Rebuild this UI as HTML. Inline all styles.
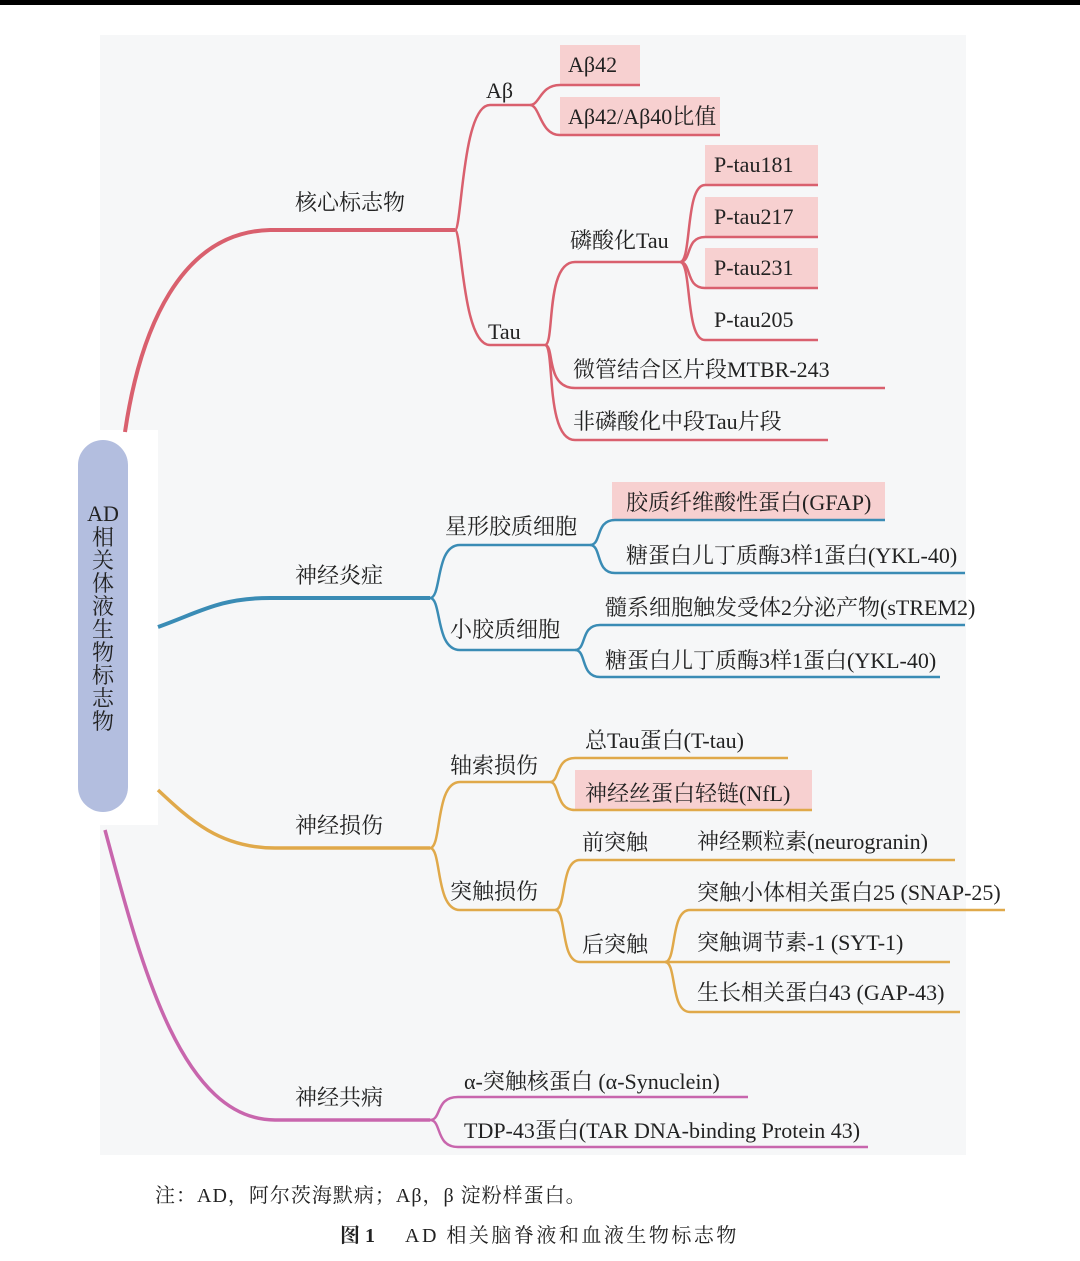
<!DOCTYPE html>
<html><head><meta charset="utf-8"><style>
html,body{margin:0;padding:0;background:#fff;width:1080px;height:1261px;overflow:hidden}
svg text{font-family:"Liberation Serif","Noto Serif CJK SC",serif;font-size:22px;fill:#222}
</style></head><body>
<svg width="1080" height="1261" viewBox="0 0 1080 1261" xmlns="http://www.w3.org/2000/svg">
<rect x="0" y="0" width="1080" height="5" fill="#000"/>
<rect x="100" y="35" width="866" height="1120" fill="#f6f7f8"/>
<rect x="70" y="430" width="88" height="395" fill="#fff"/>
<g fill="#f7d0d0">
<rect x="560" y="45" width="80" height="40"/>
<rect x="560" y="97" width="160" height="38"/>
<rect x="705" y="145" width="113" height="40"/>
<rect x="705" y="197" width="113" height="40"/>
<rect x="705" y="248" width="113" height="40"/>
<rect x="612" y="482" width="273" height="38"/>
<rect x="575" y="770" width="237" height="40"/>
</g>
<g fill="none" stroke="#d9606e" stroke-width="2.5">
<path d="M125,432 C140,330 180,232 270,230 L455,230" stroke-width="4"/>
<path d="M455,230 C462,230 462,105 490,105 L530,105"/>
<path d="M455,230 C462,230 462,345 490,345 L545,345"/>
<path d="M530,105 C540,105 540,85 560,85 L640,85"/>
<path d="M530,105 C540,105 540,135 560,135 L720,135"/>
<path d="M545,345 C555,345 545,262 575,262 L680,262"/>
<path d="M545,345 C555,345 545,388 575,388 L885,388"/>
<path d="M545,345 C555,345 545,440 575,440 L828,440"/>
<path d="M680,262 C692,262 685,185 705,185 L818,185"/>
<path d="M680,262 C692,262 685,237 705,237 L818,237"/>
<path d="M680,262 C692,262 685,288 705,288 L818,288"/>
<path d="M680,262 C692,262 685,340 705,340 L818,340"/>
</g>
<g fill="none" stroke="#3a8cb5" stroke-width="2.5">
<path d="M158,627 C200,612 220,598 270,598 L430,598" stroke-width="4"/>
<path d="M430,598 C442,598 435,545 460,545 L590,545"/>
<path d="M430,598 C442,598 435,650 460,650 L575,650"/>
<path d="M590,545 C602,545 595,520 615,520 L885,520"/>
<path d="M590,545 C602,545 595,573 615,573 L965,573"/>
<path d="M575,650 C587,650 580,625 600,625 L965,625"/>
<path d="M575,650 C587,650 580,677 600,677 L940,677"/>
</g>
<g fill="none" stroke="#e0a94a" stroke-width="2.5">
<path d="M158,790 C190,820 220,848 275,848 L430,848" stroke-width="3.5"/>
<path d="M430,848 C442,848 435,782 460,782 L550,782"/>
<path d="M430,848 C442,848 435,910 460,910 L555,910"/>
<path d="M550,782 C560,782 555,758 575,758 L788,758"/>
<path d="M550,782 C560,782 555,810 575,810 L812,810"/>
<path d="M555,910 C567,910 560,860 580,860 L955,860"/>
<path d="M555,910 C567,910 560,962 580,962 L665,962"/>
<path d="M665,962 C677,962 670,910 690,910 L1005,910"/>
<path d="M665,962 C677,962 670,962 690,962 L950,962"/>
<path d="M665,962 C677,962 670,1012 690,1012 L960,1012"/>
</g>
<g fill="none" stroke="#c866ad" stroke-width="2.5">
<path d="M105,830 C140,960 180,1120 275,1120 L430,1120" stroke-width="3.5"/>
<path d="M430,1120 C442,1120 435,1097 458,1097 L748,1097"/>
<path d="M430,1120 C442,1120 435,1147 458,1147 L868,1147"/>
</g>
<rect x="78" y="440" width="50" height="372" rx="25" fill="#b3bedf"/>
<text x="103" y="521" text-anchor="middle" font-size="20">AD</text>
<g text-anchor="middle" style="font-size:21px">
<text x="103" y="545">相</text><text x="103" y="568">关</text><text x="103" y="591">体</text><text x="103" y="614">液</text><text x="103" y="637">生</text><text x="103" y="660">物</text><text x="103" y="683">标</text><text x="103" y="706">志</text><text x="103" y="729">物</text>
</g>
<text x="295" y="210">核心标志物</text>
<text x="486" y="98">Aβ</text>
<text x="568" y="72">Aβ42</text>
<text x="568" y="124">Aβ42/Aβ40比值</text>
<text x="488" y="339">Tau</text>
<text x="570" y="248">磷酸化Tau</text>
<text x="714" y="172">P-tau181</text>
<text x="714" y="224">P-tau217</text>
<text x="714" y="275">P-tau231</text>
<text x="714" y="327">P-tau205</text>
<text x="573" y="377">微管结合区片段MTBR-243</text>
<text x="573" y="429">非磷酸化中段Tau片段</text>

<text x="295" y="583">神经炎症</text>
<text x="445" y="534">星形胶质细胞</text>
<text x="450" y="637">小胶质细胞</text>
<text x="626" y="510">胶质纤维酸性蛋白(GFAP)</text>
<text x="626" y="563">糖蛋白儿丁质酶3样1蛋白(YKL-40)</text>
<text x="605" y="615">髓系细胞触发受体2分泌产物(sTREM2)</text>
<text x="605" y="668">糖蛋白儿丁质酶3样1蛋白(YKL-40)</text>

<text x="295" y="833">神经损伤</text>
<text x="450" y="773">轴索损伤</text>
<text x="450" y="899">突触损伤</text>
<text x="585" y="748">总Tau蛋白(T-tau)</text>
<text x="585" y="801">神经丝蛋白轻链(NfL)</text>
<text x="582" y="850">前突触</text>
<text x="582" y="952">后突触</text>
<text x="697" y="849">神经颗粒素(neurogranin)</text>
<text x="697" y="900">突触小体相关蛋白25 (SNAP-25)</text>
<text x="697" y="950">突触调节素-1 (SYT-1)</text>
<text x="697" y="1000">生长相关蛋白43 (GAP-43)</text>

<text x="295" y="1105">神经共病</text>
<text x="464" y="1089">α-突触核蛋白 (α-Synuclein)</text>
<text x="464" y="1138">TDP-43蛋白(TAR DNA-binding Protein 43)</text>

<text x="155" y="1202" style="font-size:20px;letter-spacing:1px" fill="#333">注：AD，阿尔茨海默病；Aβ，β 淀粉样蛋白。</text>
<text x="340" y="1242" style="font-size:20px" font-weight="bold">图 1</text>
<text x="405" y="1242" style="font-size:20px;letter-spacing:2.5px">AD 相关脑脊液和血液生物标志物</text>
</svg>
</body></html>
